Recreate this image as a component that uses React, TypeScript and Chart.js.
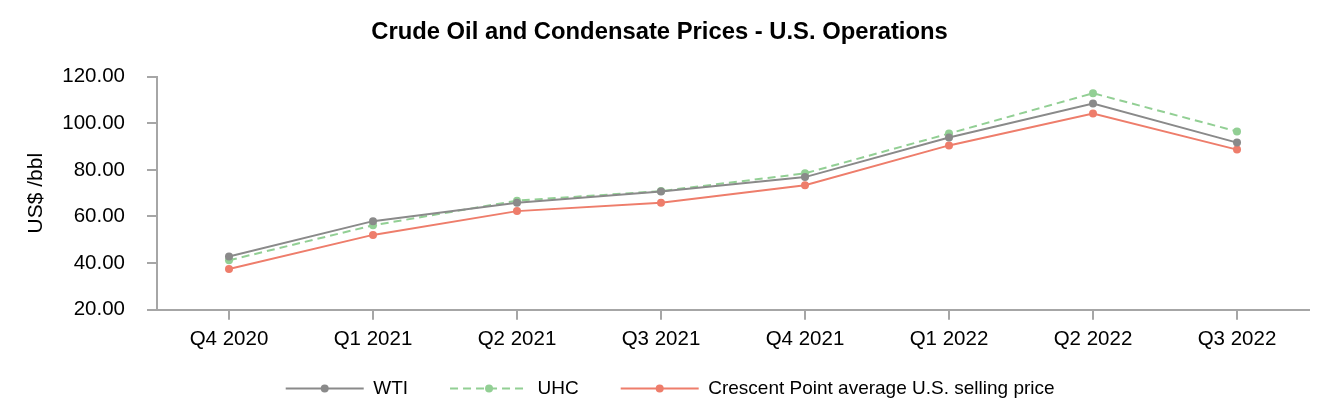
import { useEffect, useRef } from 'react';
import { Chart, registerables } from 'chart.js';

Chart.register(...registerables);

const categories = ['Q4 2020', 'Q1 2021', 'Q2 2021', 'Q3 2021', 'Q4 2021', 'Q1 2022', 'Q2 2022', 'Q3 2022'];
const wtiValues = [42.8, 58.0, 65.9, 70.7, 76.9, 93.9, 108.5, 91.7];
const uhcValues = [41.2, 56.2, 66.8, 70.9, 78.5, 95.6, 112.9, 96.5];
const crescentValues = [37.5, 52.1, 62.3, 65.9, 73.4, 90.5, 104.2, 88.7];
const seriesNames = ['WTI', 'UHC', 'Crescent Point average U.S. selling price'];
const yMin = 20;
const yMax = 120;
const yStep = 20;
const titleText = 'Crude Oil and Condensate Prices - U.S. Operations';
const yTitle = 'US$ /bbl';

const FONT = "'Liberation Sans', Arial, Helvetica, sans-serif";
const AXIS = '#a6a6a6';
const COLORS = ['#8a8a8a', '#92cf94', '#ee7d6b'];
const LEGEND_PAD = 20.7;
const BOX_EXTRA = 42 - LEGEND_PAD;
const LINE_W = 78;

export default function App() {
  const ref = useRef<HTMLCanvasElement>(null);

  useEffect(() => {
    document.body.style.margin = '0';
    const legendLines = {
      id: 'legendLines',
      afterDraw(chart: any) {
        const lg = chart.legend;
        if (!lg || !lg.legendHitBoxes) return;
        const ctx = chart.ctx;
        lg.legendHitBoxes.forEach((hb: any, i: number) => {
          const ds: any = chart.data.datasets[i];
          const y = hb.top + hb.height / 2;
          const x0 = hb.left + BOX_EXTRA;
          const x1 = x0 + LINE_W;
          ctx.save();
          ctx.strokeStyle = ds.borderColor;
          ctx.lineWidth = 2;
          ctx.setLineDash(ds.borderDash || []);
          ctx.beginPath();
          ctx.moveTo(x0, y);
          ctx.lineTo(x1, y);
          ctx.stroke();
          ctx.setLineDash([]);
          ctx.fillStyle = ds.pointBackgroundColor;
          ctx.beginPath();
          ctx.arc((x0 + x1) / 2, y, 4, 0, Math.PI * 2);
          ctx.fill();
          ctx.restore();
        });
      },
    };

    const series = [wtiValues, uhcValues, crescentValues];
    const chart = new Chart(ref.current as HTMLCanvasElement, {
      type: 'line',
      data: {
        labels: categories,
        datasets: series.map((vals, i) => ({
          label: seriesNames[i],
          data: vals,
          borderColor: COLORS[i],
          backgroundColor: COLORS[i],
          pointBackgroundColor: COLORS[i],
          pointBorderColor: COLORS[i],
          pointRadius: 4,
          pointBorderWidth: 0,
          borderWidth: 2,
          borderDash: i === 1 ? [8, 5] : [],
          tension: 0,
          fill: false,
        })),
      },
      options: {
        animation: false,
        responsive: true,
        maintainAspectRatio: false,
        layout: { padding: { left: 10, right: 23, top: 0, bottom: 12 } },
        plugins: {
          title: {
            display: true,
            text: titleText,
            color: '#000',
            font: { family: FONT, size: 23.8, weight: 'bold' },
            padding: { top: 17.7, bottom: 30.4 },
          },
          legend: {
            position: 'bottom',
            labels: {
              boxWidth: LINE_W + BOX_EXTRA,
              boxHeight: 8,
              padding: LEGEND_PAD,
              color: '#000',
              font: { family: FONT, size: 19 },
              generateLabels: (c: any) =>
                c.data.datasets.map((ds: any, i: number) => ({
                  text: ds.label,
                  fillStyle: 'rgba(0,0,0,0)',
                  strokeStyle: 'rgba(0,0,0,0)',
                  lineWidth: 0,
                  hidden: false,
                  datasetIndex: i,
                  fontColor: '#000',
                })),
            },
          },
          tooltip: { enabled: false },
        },
        scales: {
          x: {
            offset: true,
            grid: { display: true, drawOnChartArea: false, drawTicks: true, tickLength: 10, color: AXIS, lineWidth: 2 },
            border: { display: true, color: AXIS, width: 2 },
            ticks: { color: '#000', padding: 7, font: { family: FONT, size: 20.5 }, maxRotation: 0 },
          },
          y: {
            min: yMin,
            max: yMax,
            afterFit: (scale: any) => {
              scale.width = 147;
            },
            title: {
              display: true,
              text: yTitle,
              color: '#000',
              font: { family: FONT, size: 21 },
              padding: { top: 14.1, bottom: 0 },
            },
            grid: { display: true, drawOnChartArea: false, drawTicks: true, tickLength: 10, color: AXIS, lineWidth: 2 },
            border: { display: true, color: AXIS, width: 2 },
            ticks: {
              stepSize: yStep,
              color: '#000',
              padding: 22,
              font: { family: FONT, size: 20.5 },
              callback: (v: any) => Number(v).toFixed(2),
            },
          },
        },
      },
      plugins: [legendLines],
    });
    return () => chart.destroy();
  }, []);

  return (
    <div style={{ width: 1332, height: 420, position: 'relative' }}>
      <canvas ref={ref} />
    </div>
  );
}
